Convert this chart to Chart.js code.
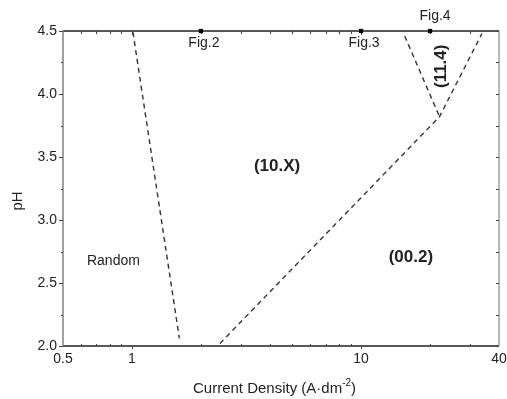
<!DOCTYPE html>
<html>
<head>
<meta charset="utf-8">
<script src="https://cdn.jsdelivr.net/npm/chart.js@4.4.1/dist/chart.umd.min.js"></script>
<style>
  html, body { margin: 0; padding: 0; background: #fff; }
  #wrap { width: 507px; height: 399px; position: relative; }
</style>
</head>
<body>
<div id="wrap"><canvas id="phaseChart"></canvas></div>
<script>
// Texture boundaries in the current density / pH plane
const randomBoundaryX = [1.01, 1.61];
const randomBoundaryY = [4.49, 2.06];
const basalBoundaryX = [2.42, 22.0, 33.7];
const basalBoundaryY = [2.02, 3.82, 4.48];
const pyramidalBoundaryX = [15.5, 22.0];
const pyramidalBoundaryY = [4.46, 3.82];

// Conditions of the samples shown in figures 2-4
const sampleX = [2, 10, 20];
const sampleY = [4.5, 4.5, 4.5];
const sampleLabels = ['Fig.2', 'Fig.3', 'Fig.4'];

// Axis ticks
const xTickLabels = [0.5, 1, 10, 40];
const xMajorTicks = [1, 10];
const xMinorTicks = [0.6, 0.7, 0.8, 0.9, 2, 3, 4, 5, 6, 7, 8, 9, 20, 30];
const yTickLabels = [2.0, 2.5, 3.0, 3.5, 4.0, 4.5];
const yMinorTicks = [2.25, 2.75, 3.25, 3.75, 4.25];

const FONT = "'Liberation Sans', Arial, sans-serif";

function toPoints(xs, ys) {
    return xs.map((x, i) => ({ x: x, y: ys[i] }));
}

const dashed = {
    type: 'line',
    borderColor: '#333',
    borderWidth: 1.4,
    borderDash: [5, 4],
    pointRadius: 0,
    fill: false,
    tension: 0
};

// Frame, tick marks, titles and region names
const decorations = {
    id: 'decorations',
    beforeDatasetsDraw(chart) {
        const { ctx, chartArea: a, scales: { x, y } } = chart;
        ctx.save();

        // frame
        ctx.lineWidth = 1.4;
        ctx.strokeStyle = '#222';
        ctx.beginPath();
        ctx.moveTo(a.left, a.top); ctx.lineTo(a.right, a.top);
        ctx.moveTo(a.left, a.bottom); ctx.lineTo(a.right, a.bottom);
        ctx.stroke();
        ctx.strokeStyle = '#888';
        ctx.lineWidth = 1.6;
        ctx.beginPath();
        ctx.moveTo(a.left, a.top); ctx.lineTo(a.left, a.bottom);
        ctx.stroke();
        ctx.lineWidth = 1.2;
        ctx.beginPath();
        ctx.moveTo(a.right, a.top); ctx.lineTo(a.right, a.bottom);
        ctx.stroke();

        // tick marks
        ctx.strokeStyle = '#444';
        ctx.lineWidth = 1;
        ctx.beginPath();
        yTickLabels.forEach(v => {
            const py = Math.round(y.getPixelForValue(v)) + 0.5;
            ctx.moveTo(a.left - 4, py); ctx.lineTo(a.left, py);
            ctx.moveTo(a.right - 3, py); ctx.lineTo(a.right, py);
        });
        yMinorTicks.forEach(v => {
            const py = Math.round(y.getPixelForValue(v)) + 0.5;
            ctx.moveTo(a.left - 2, py); ctx.lineTo(a.left, py);
            ctx.moveTo(a.right - 3, py); ctx.lineTo(a.right, py);
        });
        xMajorTicks.forEach(v => {
            const px = Math.round(x.getPixelForValue(v)) + 0.5;
            ctx.moveTo(px, a.top); ctx.lineTo(px, a.top + 4);
            ctx.moveTo(px, a.bottom); ctx.lineTo(px, a.bottom + 3);
        });
        xMinorTicks.forEach(v => {
            const px = Math.round(x.getPixelForValue(v)) + 0.5;
            ctx.moveTo(px, a.top); ctx.lineTo(px, a.top + 3);
            ctx.moveTo(px, a.bottom - 2); ctx.lineTo(px, a.bottom);
        });
        ctx.stroke();

        // sample labels next to their markers
        ctx.fillStyle = '#222';
        ctx.font = '14px ' + FONT;
        ctx.textAlign = 'center';
        ctx.textBaseline = 'middle';
        sampleX.forEach((v, i) => {
            const px = x.getPixelForValue(v);
            const py = y.getPixelForValue(sampleY[i]);
            if (i === 2) ctx.fillText(sampleLabels[i], px + 5, py - 15);
            else ctx.fillText(sampleLabels[i], px + 3, py + 12);
        });

        // region names
        ctx.fillText('Random', x.getPixelForValue(0.83), y.getPixelForValue(2.675));
        ctx.font = 'bold 17px ' + FONT;
        ctx.fillText('(10.X)', x.getPixelForValue(4.3), y.getPixelForValue(3.43));
        ctx.fillText('(00.2)', x.getPixelForValue(16.5), y.getPixelForValue(2.70));
        ctx.save();
        ctx.translate(x.getPixelForValue(22.4), y.getPixelForValue(4.22));
        ctx.rotate(-Math.PI / 2);
        ctx.fillText('(11.4)', 0, 0);
        ctx.restore();

        // axis titles
        ctx.font = '15px ' + FONT;
        ctx.save();
        ctx.translate(18, 201);
        ctx.rotate(-Math.PI / 2);
        ctx.fillText('pH', 0, 0);
        ctx.restore();

        const main = 'Current Density (A\u00b7dm';
        ctx.textAlign = 'left';
        ctx.textBaseline = 'alphabetic';
        let tx = 193;
        const ty = 393;
        ctx.fillText(main, tx, ty);
        tx += ctx.measureText(main).width;
        ctx.font = '10px ' + FONT;
        ctx.fillText('-2', tx, ty - 7);
        tx += ctx.measureText('-2').width;
        ctx.font = '15px ' + FONT;
        ctx.fillText(')', tx, ty);

        ctx.restore();
    }
};

new Chart(document.getElementById('phaseChart'), {
    type: 'scatter',
    data: {
        datasets: [
            Object.assign({ data: toPoints(randomBoundaryX, randomBoundaryY) }, dashed),
            Object.assign({ data: toPoints(basalBoundaryX, basalBoundaryY) }, dashed),
            Object.assign({ data: toPoints(pyramidalBoundaryX, pyramidalBoundaryY) }, dashed),
            {
                data: toPoints(sampleX, sampleY),
                showLine: false,
                clip: false,
                pointStyle: 'rect',
                pointRadius: 3,
                backgroundColor: '#000',
                borderColor: '#000',
                borderWidth: 0
            }
        ]
    },
    options: {
        responsive: true,
        maintainAspectRatio: false,
        animation: false,
        layout: { padding: { left: 0, top: 31, right: 8, bottom: 0 } },
        plugins: {
            legend: { display: false },
            tooltip: { enabled: false }
        },
        scales: {
            x: {
                type: 'logarithmic',
                min: 0.5,
                max: 40,
                grid: { display: false, drawTicks: false },
                border: { display: false },
                afterBuildTicks: s => { s.ticks = xTickLabels.map(v => ({ value: v })); },
                afterFit: s => { s.height = 53; s.paddingLeft = 0; s.paddingRight = 0; },
                ticks: {
                    autoSkip: false,
                    maxRotation: 0,
                    padding: 5,
                    color: '#222',
                    font: { family: FONT, size: 14 },
                    callback: v => String(v)
                }
            },
            y: {
                min: 2,
                max: 4.5,
                grid: { display: false, drawTicks: false },
                border: { display: false },
                afterBuildTicks: s => { s.ticks = yTickLabels.map(v => ({ value: v })); },
                afterFit: s => { s.width = 63; s.paddingTop = 0; s.paddingBottom = 0; },
                ticks: {
                    padding: 6,
                    color: '#222',
                    font: { family: FONT, size: 14 },
                    callback: v => v.toFixed(1)
                }
            }
        }
    },
    plugins: [decorations]
});
</script>
</body>
</html>
